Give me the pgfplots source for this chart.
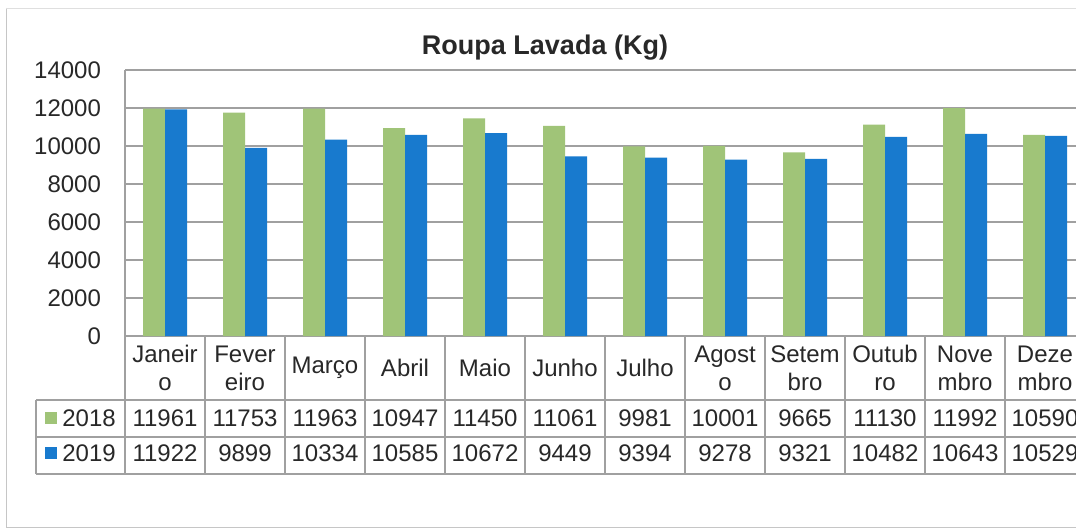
\documentclass[border=0pt]{standalone}
\usepackage{fontspec}
\setmainfont{Liberation Sans}
\usepackage{pgfplots}
\usepackage{pgfplotstable}
\pgfplotsset{compat=1.18}
\definecolor{g18}{RGB}{160,196,120}
\definecolor{b19}{RGB}{24,122,206}
\definecolor{txt}{RGB}{40,40,40}
\definecolor{ln}{RGB}{160,160,160}
\newcommand\tabfont{\fontsize{12}{14}\selectfont}

\pgfplotstableread{
i a b
0 11961 11922
1 11753 9899
2 11963 10334
3 10947 10585
4 11450 10672
5 11061 9449
6 9981 9394
7 10001 9278
8 9665 9321
9 11130 10482
10 11992 10643
11 10590 10529
}\data

\begin{document}
\begin{tikzpicture}
\path[use as bounding box, clip] (0,0) rectangle (538pt,-264.5pt);
\begin{scope}[x=0.5pt,y=-0.5pt]
  \fill[white] (0,0) rectangle (1076,529);
  \draw[gray!45, line width=0.5pt] (6,8) -- (6,527) -- (1090,527);
  \draw[gray!25, line width=0.4pt] (6,8) -- (1090,8);
  \node[font=\bfseries\fontsize{13.5}{16}\selectfont, text=txt] at (545,48) {Roupa Lavada (Kg)};
  \begin{scope}[ln, line width=0.6pt]
    \draw (36,400) -- (1090,400);
    \draw (36,437) -- (1090,437);
    \draw (36,474) -- (1090,474);
    \draw (36,400) -- (36,474);
    \draw (125,336) -- (125,474);
    \foreach \xx in {205,285,...,1005} {\draw (\xx,336) -- (\xx,474);}
  \end{scope}
  \fill[g18] (45,412) rectangle (57,424);
  \fill[b19] (45,447) rectangle (57,459);
  \node[anchor=west, font=\tabfont, text=txt, inner sep=0pt] at (62,418) {2018};
  \node[anchor=west, font=\tabfont, text=txt, inner sep=0pt] at (62,453) {2019};
\end{scope}
\begin{axis}[
  at={(62.5pt,-168pt)}, anchor=south west,
  scale only axis, width=480pt, height=133pt,
  xmin=-0.5, xmax=11.5, ymin=0, ymax=14000,
  clip=false,
  axis x line*=bottom, axis y line*=left,
  axis line style={ln, line width=0.6pt, -},
  ymajorgrids, grid style={ln, line width=0.6pt},
  major tick length=0pt,
  ytick={0,2000,...,14000},
  scaled y ticks=false,
  yticklabel style={font=\tabfont, text=txt, xshift=-8.5pt},
  /pgf/number format/.cd, 1000 sep={}, assume math mode=true, /pgfplots/.cd,
  xtick={0,...,11},
  xticklabels={{Janeir\\o},{Fever\\eiro},Março,Abril,Maio,Junho,Julho,{Agost\\o},{Setem\\bro},{Outub\\ro},{Nove\\mbro},{Deze\\mbro}},
  xticklabel style={align=center, anchor=center, yshift=-16pt, font=\tabfont, text=txt},
]
\addplot[ybar, bar width=0.275, bar shift=-0.1375, fill=g18, draw=none] table[x=i, y=a] {\data};
\addplot[ybar, bar width=0.275, bar shift=0.1375, fill=b19, draw=none] table[x=i, y=b] {\data};
\addplot[only marks, mark=*, mark size=0pt, mark options={draw=none, fill=none}, draw=none,
  nodes near coords, point meta=explicit symbolic,
  nodes near coords style={anchor=center, yshift=-41pt, font=\tabfont, text=txt}]
  table[x=i, y expr=0, meta=a] {\data};
\addplot[only marks, mark=*, mark size=0pt, mark options={draw=none, fill=none}, draw=none,
  nodes near coords, point meta=explicit symbolic,
  nodes near coords style={anchor=center, yshift=-58.5pt, font=\tabfont, text=txt}]
  table[x=i, y expr=0, meta=b] {\data};
\end{axis}
\end{tikzpicture}
\end{document}
